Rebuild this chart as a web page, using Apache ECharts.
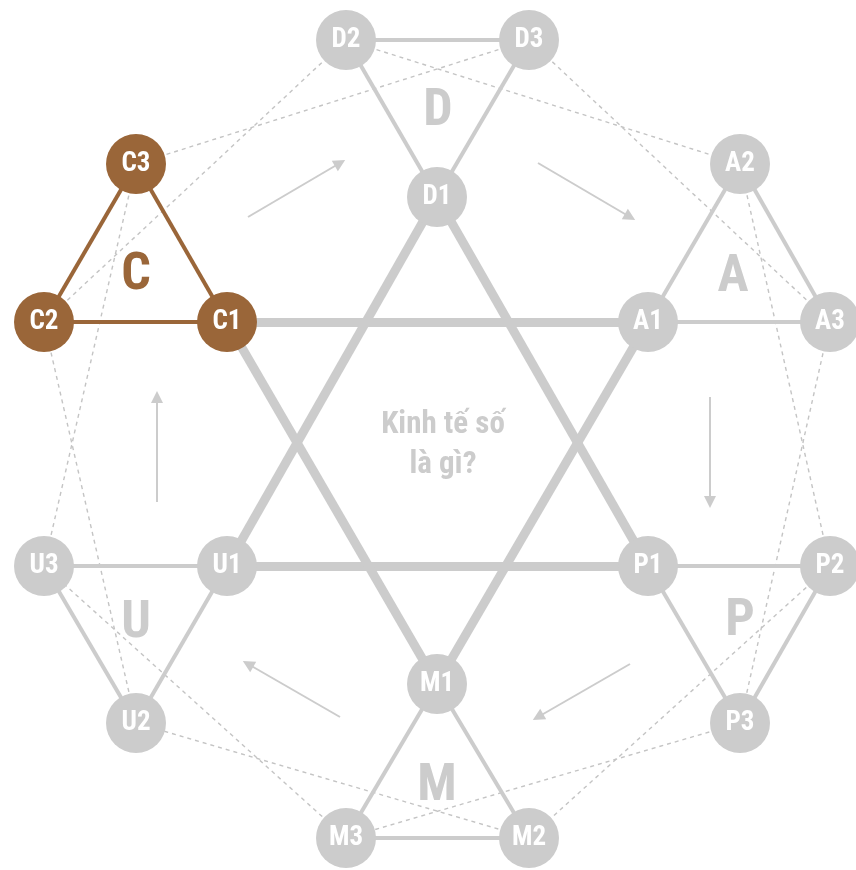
<!DOCTYPE html>
<html>
<head>
<meta charset="utf-8">
<script src="https://cdn.jsdelivr.net/npm/echarts@6/dist/echarts.min.js"></script>
<style>
html,body{margin:0;padding:0;background:#fff;}
#chart{width:856px;height:870px;}
</style>
</head>
<body>
<div id="chart"></div>
<script>
// ---- Data ----
const nodeNames = ['D1','D2','D3','A1','A2','A3','P1','P2','P3','M1','M2','M3','U1','U2','U3','C1','C2','C3'];
const nodeX =     [437, 346, 529, 648, 740, 830, 648, 830, 740, 437, 529, 346, 227, 136, 44, 227, 44, 136];
const nodeY =     [197, 40,  40,  322, 164, 322, 566, 566, 723, 684, 838, 838, 566, 723, 566, 322, 322, 164];
const highlightGroup = 'C';

const starLinks = [['D1','P1'],['P1','U1'],['U1','D1'],['M1','A1'],['A1','C1'],['C1','M1']];
const groupLinks = [
  ['D1','D2'],['D2','D3'],['D3','D1'],
  ['A1','A2'],['A2','A3'],['A3','A1'],
  ['P1','P2'],['P2','P3'],['P3','P1'],
  ['M1','M2'],['M2','M3'],['M3','M1'],
  ['U1','U2'],['U2','U3'],['U3','U1'],
  ['C1','C2'],['C2','C3'],['C3','C1']
];
const dashedLinks = [
  ['D2','A2'],['D3','A3'],['A2','P2'],['A3','P3'],['P2','M2'],['P3','M3'],
  ['M2','U2'],['M3','U3'],['U2','C2'],['U3','C3'],['C2','D2'],['C3','D3']
];

const arrowStartX = [248, 538, 710, 630, 340, 157];
const arrowStartY = [217, 163, 397, 664, 717, 502];
const arrowEndX =   [340, 630, 710, 538, 248, 157];
const arrowEndY =   [163, 217, 502, 717, 664, 397];

const groupLetters = ['D','A','P','M','U','C'];
const letterX = [438, 733, 740, 437, 136, 136];
const letterY = [112, 278, 622, 787, 624, 276];

const centerTitle = 'Kinh tế số\nlà gì?';
const centerX = 443, centerY = 445;

// ---- Styles ----
const GREY = '#cccccc';
const BROWN = '#9a6639';
const FONT = '"Roboto Condensed", "Liberation Sans Narrow", Roboto, sans-serif';

const colorOf = name => name[0] === highlightGroup ? BROWN : GREY;

const nodes = nodeNames.map((n, i) => ({
  name: n,
  value: [nodeX[i], nodeY[i]],
  itemStyle: { color: colorOf(n), opacity: 1 }
}));

const links = [];
dashedLinks.forEach(([s, t]) => links.push({
  source: s, target: t,
  lineStyle: { color: '#c4c4c4', width: 1.4, type: [4, 4], opacity: 1 }
}));
groupLinks.forEach(([s, t]) => links.push({
  source: s, target: t,
  lineStyle: { color: colorOf(s), width: 4, type: 'solid', opacity: 1 }
}));
starLinks.forEach(([s, t]) => links.push({
  source: s, target: t,
  lineStyle: { color: GREY, width: 9, type: 'solid', opacity: 1 }
}));

const arrowNodes = [];
const arrowLinks = [];
arrowStartX.forEach((x, i) => {
  arrowNodes.push({ name: 's' + i, value: [x, arrowStartY[i]] });
  arrowNodes.push({ name: 'e' + i, value: [arrowEndX[i], arrowEndY[i]] });
  arrowLinks.push({ source: 's' + i, target: 'e' + i });
});

const letterData = groupLetters.map((l, i) => ({
  name: l, value: [letterX[i], letterY[i]],
  label: { color: l === highlightGroup ? BROWN : GREY }
}));

const chart = echarts.init(document.getElementById('chart'), null, { renderer: 'canvas' });
chart.setOption({
  backgroundColor: '#ffffff',
  animation: false,
  grid: { left: 0, right: 0, top: 0, bottom: 0 },
  xAxis: { type: 'value', min: 0, max: 856, show: false },
  yAxis: { type: 'value', min: 0, max: 870, inverse: true, show: false },
  series: [
    {
      type: 'graph',
      coordinateSystem: 'cartesian2d',
      z: 1,
      symbol: 'circle',
      symbolSize: 0,
      edgeSymbol: ['none', 'triangle'],
      edgeSymbolSize: [0, 12],
      data: arrowNodes,
      links: arrowLinks,
      label: { show: false },
      lineStyle: { color: GREY, width: 2, opacity: 1 },
      itemStyle: { color: GREY, opacity: 1 },
      silent: true
    },
    {
      type: 'scatter',
      z: 2,
      symbolSize: 0,
      itemStyle: { opacity: 1 },
      data: letterData,
      label: {
        show: true, position: 'inside', formatter: '{b}',
        fontFamily: FONT, fontWeight: 'bold', fontSize: 52, opacity: 1
      },
      silent: true
    },
    {
      type: 'scatter',
      z: 2,
      symbolSize: 0,
      itemStyle: { opacity: 1 },
      data: [{ name: centerTitle, value: [centerX, centerY] }],
      label: {
        show: true, position: 'inside', formatter: '{b}',
        fontFamily: FONT, fontWeight: 'bold', fontSize: 31, lineHeight: 40,
        color: GREY, align: 'center', opacity: 1
      },
      silent: true
    },
    {
      type: 'graph',
      coordinateSystem: 'cartesian2d',
      z: 3,
      symbol: 'circle',
      symbolSize: 60,
      data: nodes,
      links: links,
      label: {
        show: true, position: 'inside', formatter: '{b}',
        color: '#ffffff', fontFamily: FONT, fontWeight: 'bold', fontSize: 27
      },
      silent: true
    }
  ]
});
</script>
</body>
</html>
